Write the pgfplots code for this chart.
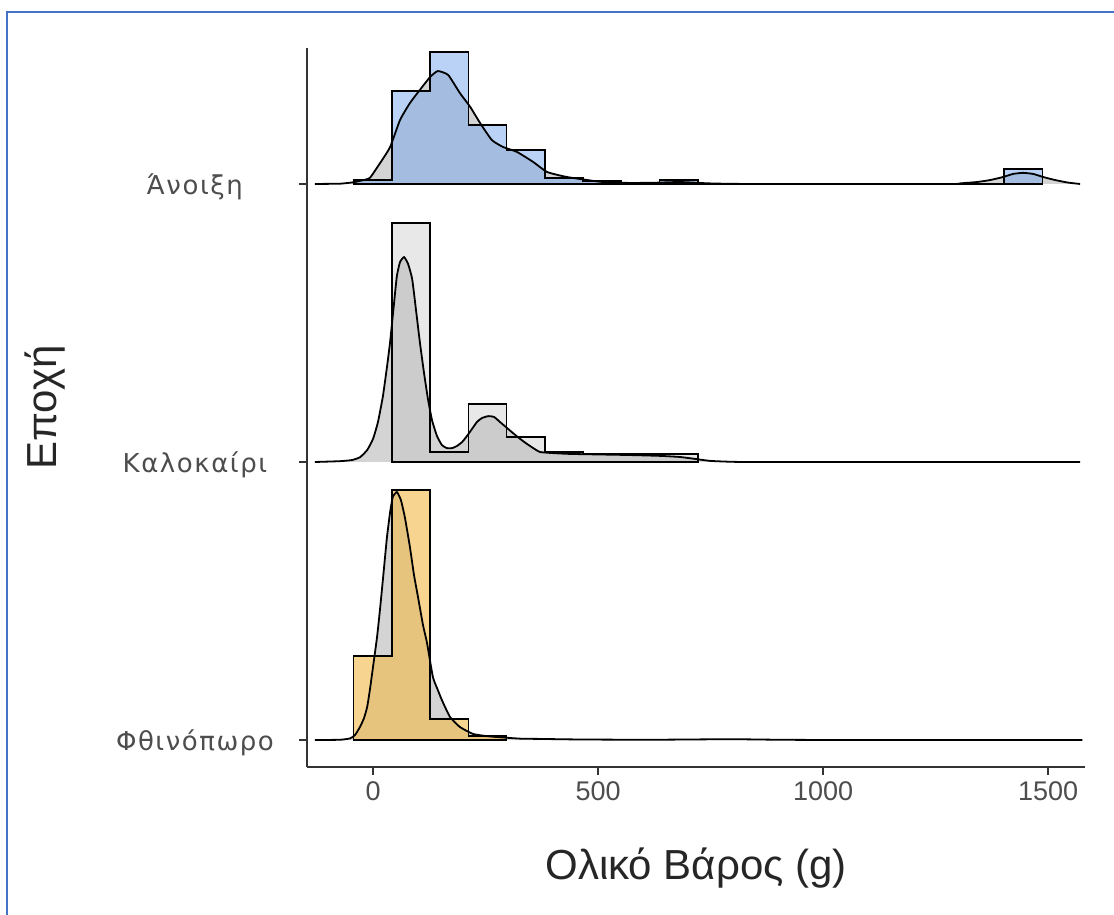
\documentclass[border=0pt]{standalone}
\usepackage{fontspec}
\setmainfont{Liberation Sans}
\newfontfamily\catfont[LetterSpace=6]{DejaVu Sans}
\usepackage{pgfplots}
\pgfplotsset{compat=1.18}
\usepackage{pgfplotstable}

\definecolor{springfill}{RGB}{115,165,235}
\definecolor{summerfill}{RGB}{190,190,190}
\definecolor{autumnfill}{RGB}{242,185,70}
\definecolor{densfill}{RGB}{160,160,160}
\definecolor{framebl}{RGB}{68,114,196}
\definecolor{axisgray}{RGB}{51,51,51}
\definecolor{labgray}{RGB}{77,77,77}

% Histogram outlines: left bin edge and bar height (in ridge units)
\pgfplotstableread{
x h
-43 0
-43 0.014
42 0.335
127 0.475
212 0.212
297 0.122
382 0.022
467 0.011
552 0
637 0.014
722 0
1402 0.054
1487 0
}\springhist
\pgfplotstableread{
x h
42 0
42 0.860
127 0.036
212 0.209
297 0.090
382 0.036
467 0.029
552 0.029
637 0.029
722 0
}\summerhist
\pgfplotstableread{
x h
-43 0
-43 0.302
42 0.899
127 0.076
212 0.014
297 0
}\autumnhist

% Density estimates
\pgfplotstableread{
x h
-129 0
-73 0.001
-44 0.006
-24 0.013
-7 0.022
16 0.076
38 0.133
60 0.230
82 0.291
104 0.338
127 0.385
144 0.406
167 0.392
193 0.327
216 0.277
238 0.219
264 0.158
289 0.133
320 0.115
356 0.079
387 0.043
431 0.025
504 0.008
549 0.004
616 0.004
682 0.007
749 0.002
838 0
1282 0
1304 0.002
1342 0.007
1371 0.014
1400 0.025
1422 0.036
1444 0.040
1467 0.036
1489 0.025
1516 0.014
1544 0.005
1571 0
}\springdens
\pgfplotstableread{
x h
-129 0
-73 0.003
-47 0.007
-29 0.017
-13 0.043
0 0.083
11 0.144
22 0.237
31 0.342
38 0.432
47 0.576
53 0.669
60 0.719
69 0.737
78 0.712
87 0.658
96 0.540
104 0.432
113 0.324
122 0.227
131 0.151
142 0.094
153 0.061
164 0.050
176 0.050
187 0.058
198 0.072
209 0.094
220 0.119
231 0.144
242 0.158
256 0.165
269 0.162
282 0.144
298 0.122
311 0.104
327 0.083
342 0.065
356 0.050
371 0.036
400 0.032
438 0.029
504 0.027
571 0.025
638 0.022
682 0.018
716 0.011
749 0.004
793 0.001
860 0
1571 0
}\summerdens
\pgfplotstableread{
x h
-129 0
-73 0.001
-51 0.006
-40 0.018
-29 0.047
-20 0.079
-13 0.119
-7 0.180
0 0.263
9 0.371
16 0.478
24 0.612
31 0.730
38 0.820
44 0.874
53 0.892
62 0.863
71 0.799
82 0.694
91 0.594
100 0.514
111 0.414
120 0.349
133 0.227
144 0.180
153 0.144
171 0.083
193 0.047
222 0.022
253 0.014
282 0.010
327 0.005
371 0.004
460 0.002
616 0.001
793 0.003
904 0.001
1060 0
1576 0
}\autumndens

\pgfplotsset{
  densarea/.style={smooth, tension=0.3, draw=none, fill=densfill, fill opacity=0.45},
  densline/.style={smooth, tension=0.3, draw=black, line width=0.9pt},
  histstep/.style={const plot mark left, draw=black, line width=0.7pt},
}

\begin{document}
\begin{tikzpicture}
\path[use as bounding box] (0,0) rectangle (557pt,-457.5pt);
\draw[framebl, line width=1pt] (3.5pt,-457.5pt) -- (3.5pt,-6pt) -- (557pt,-6pt);
\begin{axis}[
  at={(153.5pt,-383.5pt)}, anchor=south west,
  scale only axis, width=389pt, height=359.5pt,
  xmin=-146.7, xmax=1582, ymin=0.903, ymax=3.489,
  axis x line*=bottom, axis y line*=left,
  axis line style={axisgray, line width=0.8pt, -},
  tick align=outside, major tick length=4pt,
  tick style={axisgray, line width=0.8pt},
  xtick={0,500,1000,1500}, ytick={1,2,3}, yticklabels={,,},
  scaled x ticks=false,
  /pgf/number format/assume math mode=true,
  /pgf/number format/1000 sep={},
  xticklabel style={font=\fontsize{13.5}{16}\selectfont, text=labgray},
  xlabel={Ολικό Βάρος (g)}, ylabel={Εποχή},
  every axis x label/.style={at={(rel axis cs:0.5,-0.1405)}, anchor=center,
    font=\fontsize{21}{25}\selectfont, text=black!85},
  every axis y label/.style={at={(rel axis cs:-0.3368,0.5)}, anchor=center,
    rotate=90, font=\fontsize{21}{25}\selectfont, text=black!85},
  clip=false,
]
% Άνοιξη (baseline 3)
\addplot[densarea] table[x=x, y expr=\thisrow{h}+3] {\springdens} -- cycle;
\addplot[histstep, fill=springfill, fill opacity=0.5]
  table[x=x, y expr=\thisrow{h}+3] {\springhist} -- cycle;
\addplot[densline] table[x=x, y expr=\thisrow{h}+3] {\springdens};
% Καλοκαίρι (baseline 2)
\addplot[densarea] table[x=x, y expr=\thisrow{h}+2] {\summerdens} -- cycle;
\addplot[histstep, fill=summerfill, fill opacity=0.35]
  table[x=x, y expr=\thisrow{h}+2] {\summerhist} -- cycle;
\addplot[densline] table[x=x, y expr=\thisrow{h}+2] {\summerdens};
% Φθινόπωρο (baseline 1)
\addplot[densarea] table[x=x, y expr=\thisrow{h}+1] {\autumndens} -- cycle;
\addplot[histstep, fill=autumnfill, fill opacity=0.6]
  table[x=x, y expr=\thisrow{h}+1] {\autumnhist} -- cycle;
\addplot[densline] table[x=x, y expr=\thisrow{h}+1] {\autumndens};
% category labels, centred left of the axis
\node[font=\catfont\fontsize{13}{15}\selectfont, text=labgray, anchor=center, yshift=-1.5pt]
  at ({rel axis cs:-0.144,0}|-{axis cs:0,3}) {Άνοιξη};
\node[font=\catfont\fontsize{13}{15}\selectfont, text=labgray, anchor=center, yshift=-1.5pt]
  at ({rel axis cs:-0.144,0}|-{axis cs:0,2}) {Καλοκαίρι};
\node[font=\catfont\fontsize{13}{15}\selectfont, text=labgray, anchor=center, yshift=-1.5pt]
  at ({rel axis cs:-0.144,0}|-{axis cs:0,1}) {Φθινόπωρο};
\end{axis}
\end{tikzpicture}
\end{document}
